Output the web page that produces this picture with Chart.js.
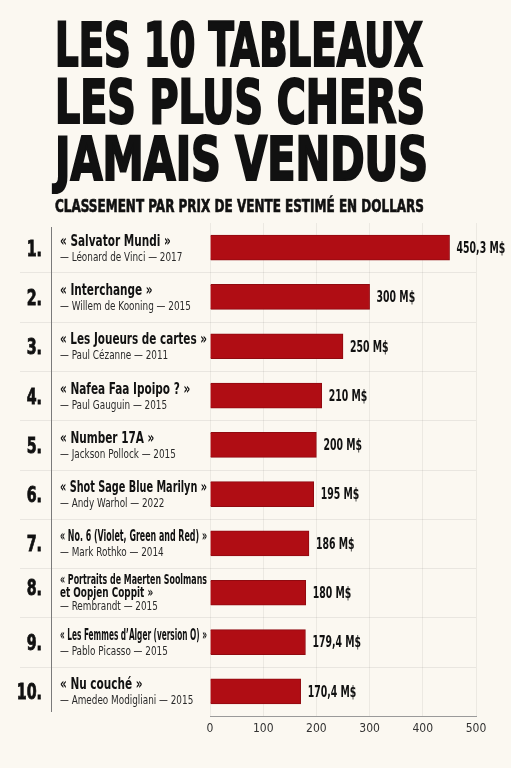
<!DOCTYPE html>
<html lang="fr">
<head>
<meta charset="utf-8">
<title>Les 10 tableaux les plus chers jamais vendus</title>
<script src="https://cdn.jsdelivr.net/npm/chart.js@4/dist/chart.umd.min.js"></script>
<style>
  html, body { margin: 0; padding: 0; background: #fbf8f1; }
  .chart-container { position: relative; width: 511px; height: 768px; }
</style>
</head>
<body>
<div class="chart-container">
  <canvas id="chart" width="511" height="768" aria-label="Classement des tableaux les plus chers" role="img"></canvas>
</div>
<script>
const TITLE_LINES = ['LES 10 TABLEAUX', 'LES PLUS CHERS', 'JAMAIS VENDUS'];
const SUBTITLE = 'CLASSEMENT PAR PRIX DE VENTE ESTIMÉ EN DOLLARS';

const PAINTINGS = [
  '« Salvator Mundi »',
  '« Interchange »',
  '« Les Joueurs de cartes »',
  '« Nafea Faa Ipoipo ? »',
  '« Number 17A »',
  '« Shot Sage Blue Marilyn »',
  '« No. 6 (Violet, Green and Red) »',
  '« Portraits de Maerten Soolmans\net Oopjen Coppit »',
  '« Les Femmes d’Alger (version O) »',
  '« Nu couché »',
];
const ARTISTS = [
  'Léonard de Vinci', 'Willem de Kooning', 'Paul Cézanne', 'Paul Gauguin',
  'Jackson Pollock', 'Andy Warhol', 'Mark Rothko', 'Rembrandt',
  'Pablo Picasso', 'Amedeo Modigliani',
];
const YEARS = [2017, 2015, 2011, 2015, 2015, 2022, 2014, 2015, 2015, 2015];
const PRICES = [450.3, 300, 250, 210, 200, 195, 186, 180, 179.4, 170.4]; // millions $
const X_TICKS = [0, 100, 200, 300, 400, 500];

const NARROW = '"Liberation Sans Narrow", "DejaVu Sans Condensed", sans-serif';
const BAR_RED = '#b00d14';
const INK = '#111111';

const formatPrice = (v) => v.toLocaleString('fr-FR', { maximumFractionDigits: 1 }) + ' M$';

// draw text squeezed horizontally (condensed look), optionally capped to a width
function narrowText(ctx, text, x, y, squeeze, maxW, align = 'left', weight = 0) {
  const w = ctx.measureText(text).width;
  let sx = squeeze;
  if (maxW && w * sx > maxW) sx = maxW / w;
  ctx.save();
  ctx.textAlign = 'left';
  ctx.translate(align === 'right' ? x - w * sx : x, y);
  ctx.scale(sx, 1);
  ctx.fillText(text, 0, 0);
  if (weight) {
    ctx.lineWidth = weight;
    ctx.strokeStyle = ctx.fillStyle;
    ctx.strokeText(text, 0, 0);
  }
  ctx.restore();
}

const headline = {
  id: 'headline',
  beforeDraw(chart) {
    const { ctx } = chart;
    ctx.save();
    ctx.fillStyle = INK;
    ctx.textBaseline = 'alphabetic';
    ctx.font = `bold 61px ${NARROW}`;
    const widths = [368, 370, 373];
    TITLE_LINES.forEach((line, i) => {
      const w = ctx.measureText(line).width;
      narrowText(ctx, line, 55, 66 + i * 57, widths[i] / w, null, 'left', 2.2);
    });
    ctx.font = `bold 17px ${NARROW}`;
    narrowText(ctx, SUBTITLE, 55, 212, 369 / ctx.measureText(SUBTITLE).width, null, 'left', 0.6);
    ctx.restore();
  },
};

const rowLabels = {
  id: 'rowLabels',
  beforeDatasetsDraw(chart) {
    const { ctx, chartArea } = chart;
    const y = chart.scales.y;
    ctx.save();

    // row separators
    ctx.strokeStyle = 'rgba(0,0,0,0.07)';
    ctx.lineWidth = 1;
    for (let i = 0; i < PAINTINGS.length - 1; i++) {
      const yy = Math.round((y.getPixelForValue(i) + y.getPixelForValue(i + 1)) / 2) + 0.5;
      ctx.beginPath();
      ctx.moveTo(20, yy);
      ctx.lineTo(chartArea.right, yy);
      ctx.stroke();
    }

    // rank column divider
    ctx.strokeStyle = '#7a7a7a';
    ctx.beginPath();
    ctx.moveTo(51.5, chartArea.top + 4);
    ctx.lineTo(51.5, chartArea.bottom - 4);
    ctx.stroke();

    ctx.textBaseline = 'alphabetic';
    PAINTINGS.forEach((title, i) => {
      const c = y.getPixelForValue(i);
      const lines = title.split('\n');
      const multi = lines.length > 1;

      ctx.fillStyle = INK;
      ctx.font = `bold 22px ${NARROW}`;
      narrowText(ctx, `${i + 1}.`, 42, c + (multi ? 2 : 8), 0.72, null, 'right', 0.8);

      ctx.font = `bold ${multi ? 13.5 : 16}px ${NARROW}`;
      const top = multi ? c - 9 : c - 2;
      const step = multi ? 13 : 15;
      lines.forEach((line, j) => narrowText(ctx, line, 60, top + j * step, 0.73, 147));

      ctx.font = `12px ${NARROW}`;
      ctx.fillStyle = '#2a2a2a';
      narrowText(ctx, `— ${ARTISTS[i]} — ${YEARS[i]}`, 60, top + lines.length * step, 0.82, 145);
    });
    ctx.restore();
  },
};

const valueLabels = {
  id: 'valueLabels',
  afterDatasetsDraw(chart) {
    const { ctx } = chart;
    const meta = chart.getDatasetMeta(0);
    ctx.save();
    ctx.fillStyle = INK;
    ctx.font = `bold 16.5px ${NARROW}`;
    ctx.textBaseline = 'middle';
    meta.data.forEach((bar, i) => {
      narrowText(ctx, formatPrice(PRICES[i]), bar.x + 7, bar.y + 1, 0.63);
    });
    ctx.restore();
  },
};

new Chart(document.getElementById('chart'), {
  type: 'bar',
  data: {
    labels: PAINTINGS,
    datasets: [{
      data: PRICES,
      backgroundColor: BAR_RED,
      borderColor: '#900a10',
      borderWidth: 1,
      barThickness: 25,
    }],
  },
  options: {
    indexAxis: 'y',
    responsive: false,
    animation: false,
    layout: { padding: { top: 223, left: 10, right: 35, bottom: 22 } },
    plugins: {
      legend: { display: false },
      tooltip: { enabled: false },
    },
    scales: {
      x: {
        min: X_TICKS[0],
        max: X_TICKS[X_TICKS.length - 1],
        afterBuildTicks(scale) {
          scale.ticks = X_TICKS.map((value) => ({ value }));
        },
        afterFit(scale) { scale.height = 30; },
        grid: { color: 'rgba(0,0,0,0.06)', drawTicks: false },
        border: { color: '#9a9a9a' },
        ticks: { color: '#333', padding: 6, font: { family: NARROW, size: 12 } },
      },
      y: {
        afterFit(scale) { scale.width = 200; },
        grid: { display: false },
        border: { display: false },
        ticks: { display: false },
      },
    },
  },
  plugins: [headline, rowLabels, valueLabels],
});
</script>
</body>
</html>
